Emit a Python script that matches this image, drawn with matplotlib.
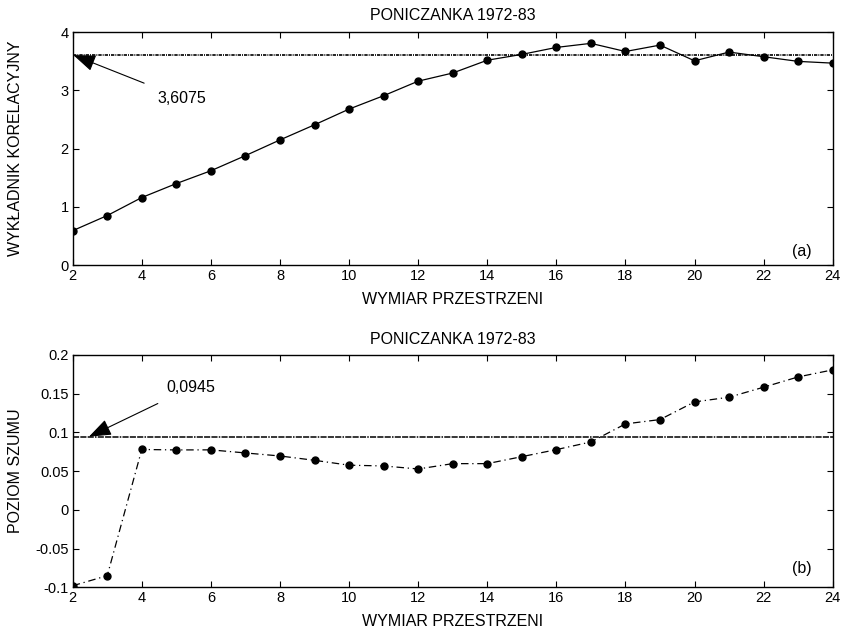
import matplotlib
matplotlib.use("Agg")
import matplotlib.pyplot as plt
import numpy as np

plt.rcParams['font.family'] = ['Liberation Sans', 'DejaVu Sans']

dims = [2, 3, 4, 5, 6, 7, 8, 9, 10, 11, 12, 13, 14, 15, 16, 17, 18, 19, 20, 21, 22, 23, 24]
corr_exp = [0.59, 0.85, 1.16, 1.40, 1.62, 1.88, 2.15, 2.41, 2.68, 2.91, 3.16, 3.30,
            3.52, 3.62, 3.74, 3.81, 3.67, 3.78, 3.51, 3.66, 3.58, 3.50, 3.47]
noise = [-0.098, -0.085, 0.078, 0.0774, 0.0775, 0.0735, 0.0696, 0.064, 0.0577, 0.0567,
         0.0528, 0.0597, 0.0597, 0.0687, 0.0778, 0.0877, 0.111, 0.1166, 0.1394, 0.1455,
         0.1584, 0.1717, 0.1808]
corr_ref = 3.6075
noise_ref = 0.0945
title = "PONICZANKA 1972-83"
xlabel = "WYMIAR PRZESTRZENI"
ylabel_a = "WYKŁADNIK KORELACYJNY"
ylabel_b = "POZIOM SZUMU"
xticks = [2, 4, 6, 8, 10, 12, 14, 16, 18, 20, 22, 24]
yticks_a = [0, 1, 2, 3, 4]
yticks_b = [-0.1, -0.05, 0, 0.05, 0.1, 0.15, 0.2]

W, H = 843, 631
fig = plt.figure(figsize=(W / 100, H / 100), dpi=100)
fs_tick = 10.5
fs = 11.5

def ax_rect(l, t, r, b):
    return [l / W, 1 - b / H, (r - l) / W, (b - t) / H]

ax1 = fig.add_axes(ax_rect(72.7, 32.3, 832.7, 265))
ax2 = fig.add_axes(ax_rect(72.7, 355, 832.7, 587.3))

for ax in (ax1, ax2):
    ax.set_xlim(2, 24)
    ax.set_xticks(xticks)
    ax.tick_params(direction='in', top=True, right=True, length=4.5, width=0.8,
                   labelsize=fs_tick, pad=3)
    for s in ax.spines.values():
        s.set_linewidth(1.0)
    ax.set_xlabel(xlabel, fontsize=fs, labelpad=6)

ax1.set_title(title, fontsize=fs, pad=9)
ax2.set_title(title, fontsize=fs, pad=8)

# panel (a)
ax1.set_ylim(0, 4)
ax1.set_yticks(yticks_a)
ax1.set_yticklabels([str(v) for v in yticks_a])
ax1.plot(dims, corr_exp, color='black', lw=0.9, marker='o', ms=5)
ax1.axhline(corr_ref, color='black', lw=1.2, linestyle=(0, (2.0, 0.6, 0.6, 0.6)))
ax1.annotate("3,6075", xy=(2.02, corr_ref), xytext=(4.45, 2.87),
             fontsize=fs, va='center', ha='left',
             arrowprops=dict(arrowstyle='-|>,head_length=1.2,head_width=0.45',
                             color='black', lw=0.8, shrinkA=9, shrinkB=0))
ax1.set_ylabel(ylabel_a, fontsize=fs)
ax1.yaxis.set_label_coords((23 - 72.7) / 760, 0.5)
ax1.text(0.96, 0.06, "(a)", transform=ax1.transAxes, ha='center', va='center', fontsize=fs)

# panel (b)
ax2.set_ylim(-0.1, 0.2)
ax2.set_yticks(yticks_b)
ax2.set_yticklabels([f"{v:g}" for v in yticks_b])
ax2.plot(dims, noise, color='black', lw=0.9, marker='o', ms=5,
         linestyle=(0, (6, 3, 1, 3)))
ax2.axhline(noise_ref, color='black', lw=1.1, linestyle=(0, (4, 0.8, 4, 0.8, 4, 0.8, 1, 0.8)))
ax2.annotate("0,0945", xy=(2.47, noise_ref), xytext=(4.7, 0.1576),
             fontsize=fs, va='center', ha='left',
             arrowprops=dict(arrowstyle='-|>,head_length=1.2,head_width=0.45',
                             color='black', lw=0.8, shrinkA=9, shrinkB=0))
ax2.set_ylabel(ylabel_b, fontsize=fs)
ax2.yaxis.set_label_coords((23 - 72.7) / 760, 0.5)
ax2.text(0.96, 0.08, "(b)", transform=ax2.transAxes, ha='center', va='center', fontsize=fs)

fig.savefig("out.png", dpi=100)
